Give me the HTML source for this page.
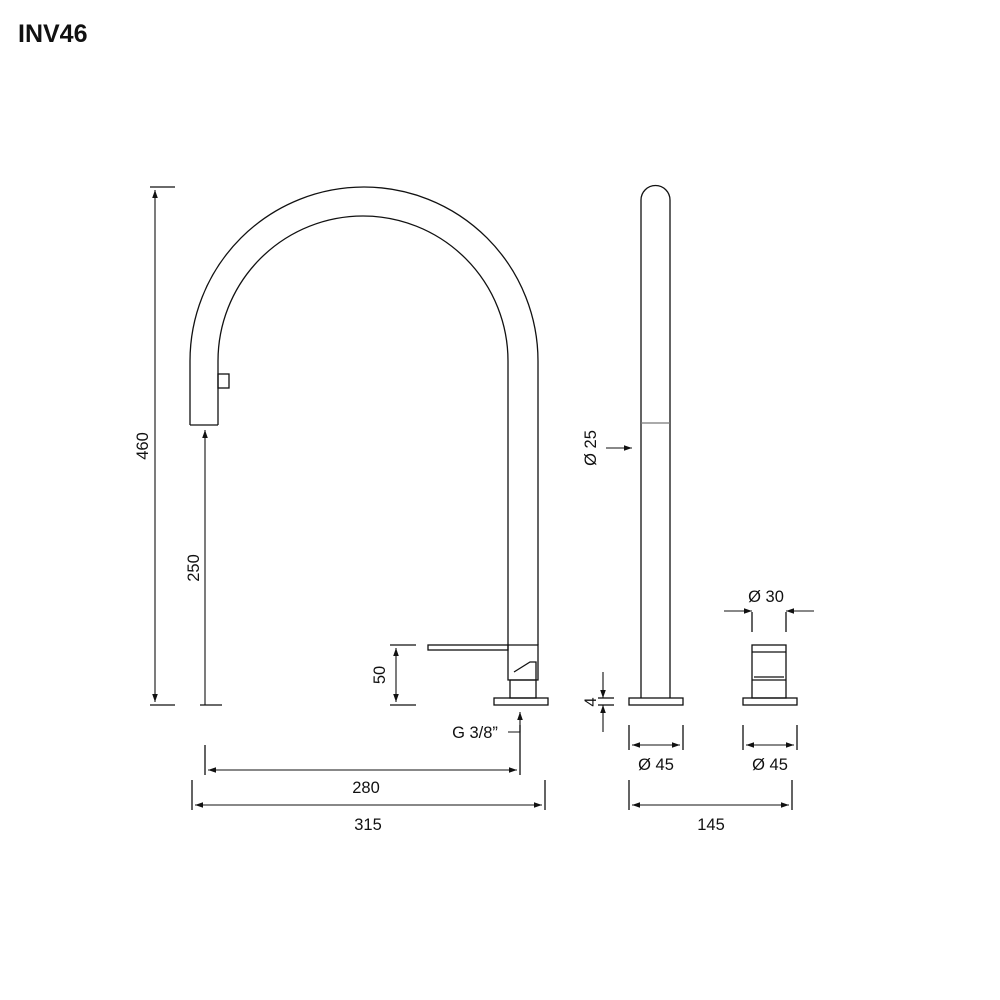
<!DOCTYPE html>
<html><head><style>body{margin:0;background:#fff}svg{display:block}text{font-family:"Liberation Sans",sans-serif;fill:#111}</style></head><body>
<svg width="1000" height="1000" viewBox="0 0 1000 1000" xmlns="http://www.w3.org/2000/svg">
<defs><marker id="a" viewBox="0 0 10 10" refX="10" refY="5" markerWidth="12" markerHeight="8" markerUnits="userSpaceOnUse" orient="auto-start-reverse"><path d="M0,1.5L10,5L0,8.5z" fill="#111"/></marker></defs>
<text x="18" y="42" font-size="25" font-weight="bold">INV46</text>
<g fill="none" stroke="#111" stroke-width="1.3">
<path d="M190,425 L190,361 A174,174 0 0 1 538,361 L538,645"/>
<path d="M218,425 L218,361 A145,145 0 0 1 508,361 L508,645"/>
<line x1="190" y1="425" x2="218" y2="425"/>
<rect x="218" y="374" width="11" height="14"/>
<rect x="428" y="645" width="80" height="5"/>
<path d="M508,645 L538,645 L538,680 L508,680 Z"/>
<path d="M514,672 L530,662 L536,662 L536,680"/>
<rect x="510" y="680" width="26" height="18"/>
<rect x="494" y="698" width="54" height="7"/>
<path d="M641,698 L641,200 A14.5,14.5 0 0 1 670,200 L670,698"/>
<line x1="641" y1="423" x2="670" y2="423" stroke="#777"/>
<rect x="629" y="698" width="54" height="7"/>
<rect x="752" y="645" width="34" height="53"/>
<line x1="752" y1="652" x2="786" y2="652"/>
<line x1="752" y1="680" x2="786" y2="680"/>
<line x1="754" y1="677" x2="784" y2="677"/>
<rect x="743" y="698" width="54" height="7"/>
<line x1="150" y1="187" x2="175" y2="187"/><line x1="150" y1="705" x2="175" y2="705"/>
<line x1="200" y1="705" x2="222" y2="705"/>
<line x1="390" y1="645" x2="416" y2="645"/><line x1="390" y1="705" x2="416" y2="705"/>
<line x1="205" y1="745" x2="205" y2="775"/><line x1="520" y1="725" x2="520" y2="775"/>
<line x1="192" y1="780" x2="192" y2="810"/><line x1="545" y1="780" x2="545" y2="810"/>
<line x1="629" y1="725" x2="629" y2="750"/><line x1="683" y1="725" x2="683" y2="750"/>
<line x1="743" y1="725" x2="743" y2="750"/><line x1="797" y1="725" x2="797" y2="750"/>
<line x1="629" y1="780" x2="629" y2="810"/><line x1="792" y1="780" x2="792" y2="810"/>
<line x1="752" y1="612" x2="752" y2="632"/><line x1="786" y1="612" x2="786" y2="632"/>
<line x1="598" y1="698" x2="614" y2="698"/><line x1="598" y1="705" x2="614" y2="705"/>
</g>
<g stroke="#111" stroke-width="1.1" fill="none">
<line x1="155" y1="190" x2="155" y2="702" marker-start="url(#a)" marker-end="url(#a)"/>
<line x1="205" y1="705" x2="205" y2="430" marker-end="url(#a)"/>
<line x1="396" y1="648" x2="396" y2="702" marker-start="url(#a)" marker-end="url(#a)"/>
<line x1="208" y1="770" x2="517" y2="770" marker-start="url(#a)" marker-end="url(#a)"/>
<line x1="195" y1="805" x2="542" y2="805" marker-start="url(#a)" marker-end="url(#a)"/>
<line x1="632" y1="805" x2="789" y2="805" marker-start="url(#a)" marker-end="url(#a)"/>
<line x1="632" y1="745" x2="680" y2="745" marker-start="url(#a)" marker-end="url(#a)"/>
<line x1="746" y1="745" x2="794" y2="745" marker-start="url(#a)" marker-end="url(#a)"/>
<line x1="724" y1="611" x2="752" y2="611" marker-end="url(#a)"/>
<line x1="814" y1="611" x2="786" y2="611" marker-end="url(#a)"/>
<line x1="606" y1="448" x2="632" y2="448" marker-end="url(#a)"/>
<line x1="603" y1="672" x2="603" y2="698" marker-end="url(#a)"/>
<line x1="603" y1="732" x2="603" y2="705" marker-end="url(#a)"/>
<path d="M508,732 L520,732 L520,712" marker-end="url(#a)"/>
</g>
<g font-size="16.5">
<text x="366" y="793" text-anchor="middle">280</text>
<text x="368" y="830" text-anchor="middle">315</text>
<text x="711" y="830" text-anchor="middle">145</text>
<text x="656" y="770" text-anchor="middle">Ø 45</text>
<text x="770" y="770" text-anchor="middle">Ø 45</text>
<text x="766" y="602" text-anchor="middle">Ø 30</text>
<text x="475" y="738" text-anchor="middle">G 3/8”</text>
<text transform="translate(148,446) rotate(-90)" text-anchor="middle">460</text>
<text transform="translate(199,568) rotate(-90)" text-anchor="middle">250</text>
<text transform="translate(385,675) rotate(-90)" text-anchor="middle">50</text>
<text transform="translate(596,702) rotate(-90)" text-anchor="middle">4</text>
<text transform="translate(596,448) rotate(-90)" text-anchor="middle">Ø 25</text>
</g>
</svg>
</body></html>
